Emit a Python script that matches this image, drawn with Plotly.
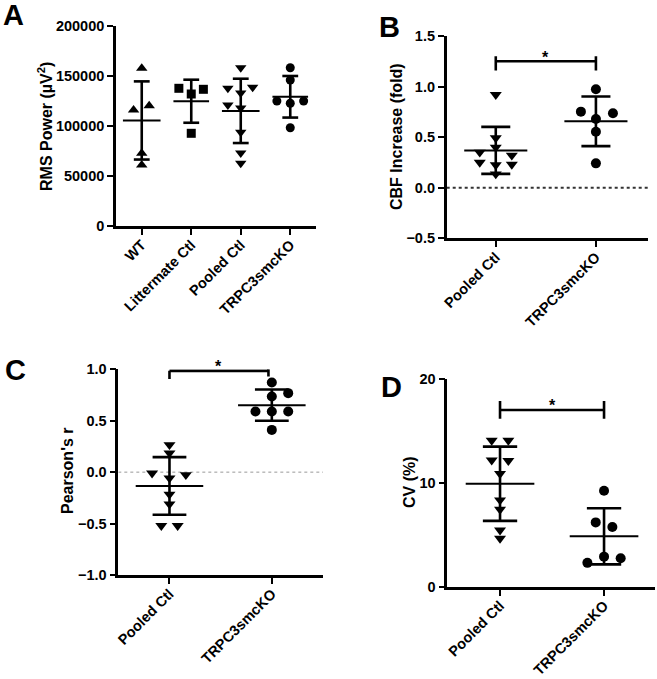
import numpy as np
import plotly.graph_objects as go

W, H = 657, 679

# ---------------- data ----------------
cats_a = ["WT", "Littermate Ctl", "Pooled Ctl", "TRPC3smcKO"]
rms_wt = [157700, 116000, 120300, 72700, 61000]
rms_littermate = [137700, 132000, 136700, 92700]
rms_pooled = [158300, 137700, 138700, 133000, 121000, 118000, 93700, 73000, 62700]
rms_ko = [158300, 146000, 125000, 122700, 125000, 98300]

cats_2 = ["Pooled Ctl", "TRPC3smcKO"]
cbf_pooled = [0.92, 0.492, 0.40, 0.35, 0.25, 0.32, 0.23, 0.225, 0.135]
cbf_ko = [0.974, 0.752, 0.737, 0.68, 0.554, 0.241]

pearson_pooled = [0.266, 0.185, -0.01, -0.026, -0.058, -0.215, -0.31, -0.52, -0.52]
pearson_ko = [0.872, 0.768, 0.736, 0.59, 0.59, 0.59, 0.411]

cv_pooled = [14.1, 14.1, 12.2, 12.15, 10.9, 8.35, 7.45, 5.45, 4.65]
cv_ko = [9.25, 6.2, 5.75, 2.3, 2.9, 2.75]

ticks_a = [0, 50000, 100000, 150000, 200000]
ticks_b = [-0.5, 0.0, 0.5, 1.0, 1.5]
ticks_c = [-1.0, -0.5, 0.0, 0.5, 1.0]
ticks_d = [0, 10, 20]

# horizontal scatter offsets (layout only)
jit_wt = [0, -0.165, 0.15, 0, 0]
jit_lit = [-0.25, 0, 0.245, 0]
jit_pool_a = [0, -0.26, 0.24, 0, -0.26, 0, 0, 0, 0]
jit_ko_a = [0, 0, -0.27, 0, 0.27, 0]
jit_pool_b = [0, 0, 0, -0.16, -0.16, 0.16, 0.16, 0, 0]
jit_ko_b = [0, -0.15, 0.17, 0, 0, 0]
jit_pool_c = [0, 0, -0.17, 0.16, 0, 0, 0, -0.08, 0.08]
jit_ko_c = [0, 0.16, 0, -0.16, 0, 0.16, 0]
jit_pool_d = [-0.08, 0.08, -0.08, 0.08, 0, 0, 0, 0, 0]
jit_ko_d = [0, -0.08, 0.08, -0.16, 0, 0.16]

FONT = "Liberation Sans, Arial, sans-serif"

def px_x(x):
    return x / W

def px_y(y):
    return 1 - y / H

fig = go.Figure()

def add_group(xa, ya, idx, vals, jit, symbol, size, mean_hw, cap_hw):
    v = np.array(vals, dtype=float)
    m = v.mean()
    sd = v.std(ddof=1)
    # SD bar
    xs = [idx, idx, None, idx - cap_hw, idx + cap_hw, None, idx - cap_hw, idx + cap_hw]
    ys = [m - sd, m + sd, None, m + sd, m + sd, None, m - sd, m - sd]
    fig.add_trace(go.Scatter(x=xs, y=ys, mode="lines", xaxis=xa, yaxis=ya,
                             line=dict(color="black", width=2.6), showlegend=False,
                             hoverinfo="skip"))
    # mean line
    fig.add_trace(go.Scatter(x=[idx - mean_hw, idx + mean_hw], y=[m, m], mode="lines",
                             xaxis=xa, yaxis=ya, line=dict(color="black", width=2),
                             showlegend=False, hoverinfo="skip"))
    # points
    fig.add_trace(go.Scatter(x=[idx + j for j in jit], y=list(v), mode="markers",
                             xaxis=xa, yaxis=ya, cliponaxis=False,
                             marker=dict(symbol=symbol, size=size, color="black",
                                         line=dict(width=0)),
                             showlegend=False))

def add_sig(xa, ya, x0, x1, yb, l0, l1, r0, r1):
    fig.add_trace(go.Scatter(x=[x0, x0, None, x0, x1, None, x1, x1],
                             y=[l0, l1, None, yb, yb, None, r0, r1], mode="lines",
                             xaxis=xa, yaxis=ya, line=dict(color="black", width=2.6),
                             showlegend=False, hoverinfo="skip"))

def add_zero(xa, ya, xr, color, width):
    fig.add_trace(go.Scatter(x=list(xr), y=[0, 0], mode="lines", xaxis=xa, yaxis=ya,
                             line=dict(color=color, width=width, dash="dot"),
                             showlegend=False, hoverinfo="skip"))

# Panel A
add_group("x", "y", 0, rms_wt, jit_wt, "triangle-up", 10, 0.38, 0.16)
add_group("x", "y", 1, rms_littermate, jit_lit, "square", 9, 0.36, 0.16)
add_group("x", "y", 2, rms_pooled, jit_pool_a, "triangle-down", 10, 0.38, 0.16)
add_group("x", "y", 3, rms_ko, jit_ko_a, "circle", 9, 0.36, 0.16)

# Panel B
xr_b = (-0.49, 1.52)
add_zero("x2", "y2", xr_b, "#333333", 1.8)
add_group("x2", "y2", 0, cbf_pooled, jit_pool_b, "triangle-down", 10.5, 0.315, 0.145)
add_group("x2", "y2", 1, cbf_ko, jit_ko_b, "circle", 10, 0.315, 0.145)
add_sig("x2", "y2", 0, 1, 1.25, 1.30, 1.16, 1.30, 1.16)

# Panel C
xr_c = (-0.50, 1.50)
add_zero("x3", "y3", xr_c, "#999999", 1)
add_group("x3", "y3", 0, pearson_pooled, jit_pool_c, "triangle-down", 10.5, 0.33, 0.165)
add_group("x3", "y3", 1, pearson_ko, jit_ko_c, "circle", 10, 0.33, 0.165)
add_sig("x3", "y3", 0, 0.967, 0.985, 0.985, 0.905, 1.0, 0.93)

# Panel D
xr_d = (-0.507, 1.49)
add_group("x4", "y4", 0, cv_pooled, jit_pool_d, "triangle-down", 10.5, 0.33, 0.165)
add_group("x4", "y4", 1, cv_ko, jit_ko_d, "circle", 10, 0.33, 0.165)
add_sig("x4", "y4", 0, 1, 17.04, 17.9, 16.2, 17.9, 16.2)

tickfont = dict(family=FONT, size=14.5, color="black", weight="bold")
xtickfont = dict(family=FONT, size=14.5, color="black", weight="bold")

def xaxis_cfg(dom, rng, cats):
    return dict(domain=[px_x(dom[0]), px_x(dom[1])], range=list(rng),
                tickvals=list(range(len(cats))), ticktext=cats, tickangle=-45,
                showline=True, linecolor="black", linewidth=2.6, ticks="outside",
                ticklen=6, tickwidth=2.2, tickcolor="black", showgrid=False,
                zeroline=False, tickfont=xtickfont, fixedrange=True, automargin=False,
                ticklabelstandoff=-4)

def yaxis_cfg(dom, rng, tv, fmt):
    return dict(domain=[px_y(dom[1]), px_y(dom[0])], range=list(rng), tickvals=tv,
                tickformat=fmt, showline=True, linecolor="black", linewidth=2.6,
                ticks="outside", ticklen=6, tickwidth=2.2, tickcolor="black",
                showgrid=False, zeroline=False, tickfont=tickfont, fixedrange=True,
                automargin=False)

fig.update_layout(
    width=W, height=H, margin=dict(l=0, r=0, t=0, b=0, autoexpand=False),
    paper_bgcolor="white", plot_bgcolor="white", showlegend=False,
    xaxis=dict(**xaxis_cfg((116, 316), (-0.52, 3.52), cats_a), anchor="y"),
    yaxis=dict(**yaxis_cfg((26, 226), (0, 200000), ticks_a, "d"), anchor="x"),
    xaxis2=dict(**xaxis_cfg((446.7, 648), xr_b, cats_2), anchor="y2"),
    yaxis2=dict(**yaxis_cfg((36, 238.3), (-0.5, 1.5), ticks_b, ".1f"), anchor="x2"),
    xaxis3=dict(**xaxis_cfg((118.3, 323), xr_c, cats_2), anchor="y3"),
    yaxis3=dict(**yaxis_cfg((369.3, 575), (-1.0, 1.0), ticks_c, ".1f"), anchor="x3"),
    xaxis4=dict(**xaxis_cfg((447.3, 655), xr_d, cats_2), anchor="y4"),
    yaxis4=dict(**yaxis_cfg((379.3, 586.7), (0, 20), ticks_d, "d"), anchor="x4"),
)

ann = []
# panel letters
for letter, (x, y) in {"A": (13, 15), "B": (389, 27), "C": (15, 370), "D": (391, 387)}.items():
    ann.append(dict(text=letter, x=px_x(x), y=px_y(y), xref="paper", yref="paper",
                    showarrow=False, xanchor="center", yanchor="middle",
                    font=dict(family=FONT, size=29, color="black", weight="bold")))
# axis titles
for text, (x, y) in {"RMS Power (µV<sup>2</sup>)": (45, 127),
                     "CBF Increase (fold)": (397, 137),
                     "Pearson's r": (67, 471),
                     "CV (%)": (409, 482)}.items():
    ann.append(dict(text=text, x=px_x(x), y=px_y(y), xref="paper", yref="paper",
                    showarrow=False, textangle=-90, xanchor="center", yanchor="middle",
                    font=dict(family=FONT, size=16, color="black", weight="bold")))
# significance stars (vertical position relative to each plot's height)
for xr, yr, x, y in [("x2", "y2 domain", 0.5, 0.896), ("x3", "y3 domain", 0.475, 1.016),
                     ("x4", "y4 domain", 0.5, 0.876)]:
    ann.append(dict(text="*", x=x, y=y, xref=xr, yref=yr, showarrow=False,
                    xanchor="center", yanchor="middle",
                    font=dict(family=FONT, size=16, color="black", weight="bold")))
fig.update_layout(annotations=ann)

fig.write_html("out.html", config={"displayModeBar": False},
               post_script="document.body.style.margin='0';document.body.style.overflow='hidden';")
